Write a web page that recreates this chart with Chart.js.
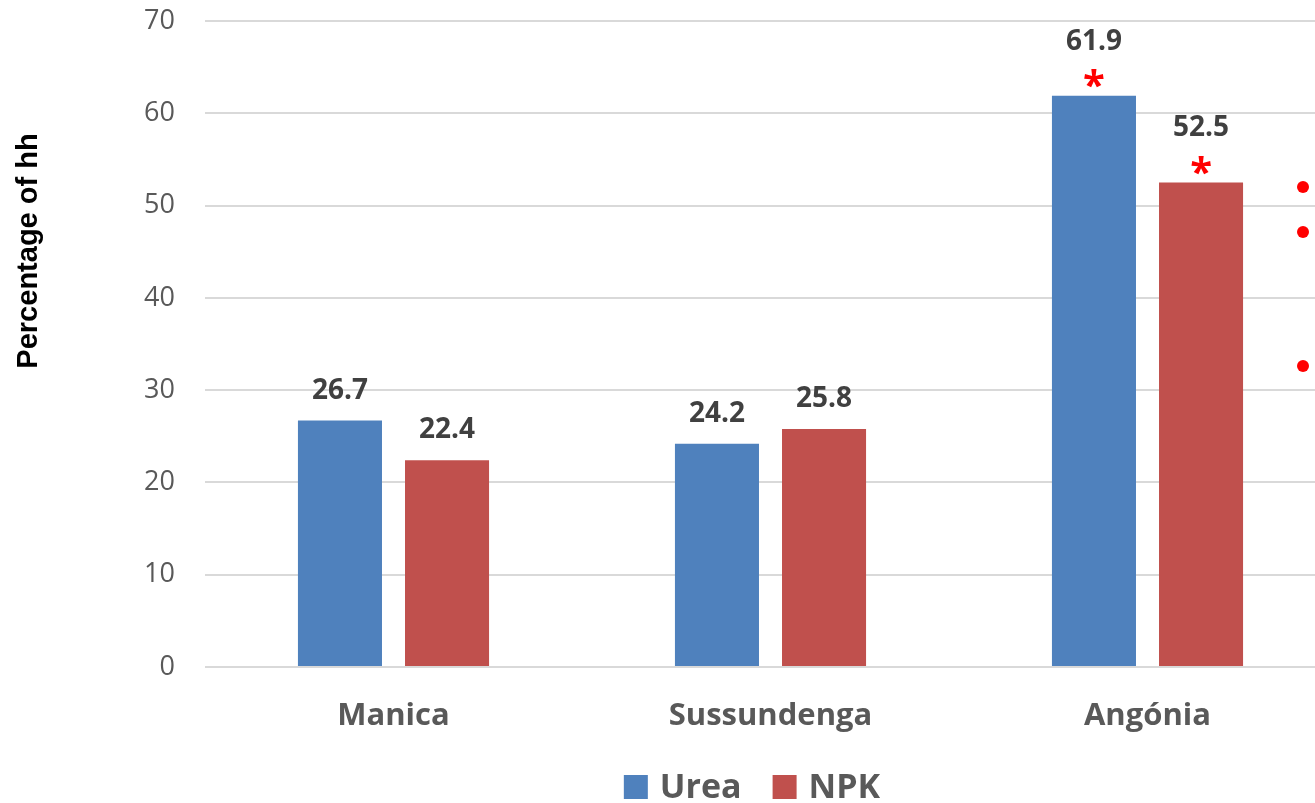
<!DOCTYPE html>
<html>
<head>
<meta charset="utf-8">
<script src="https://cdn.jsdelivr.net/npm/chart.js@4.4.1/dist/chart.umd.min.js"></script>
<style>
  html, body { margin: 0; padding: 0; background: #fff; overflow: hidden; }
  #wrap { position: relative; width: 1336px; height: 803px; }
  .dot { position: absolute; width: 12px; height: 12px; border-radius: 50%; background: #ff0000; }
</style>
</head>
<body>
<div id="wrap">
  <canvas id="grafica_fertilizantes"></canvas>
  <div class="dot" style="left:1297px; top:181px;"></div>
  <div class="dot" style="left:1297px; top:226px;"></div>
  <div class="dot" style="left:1297px; top:360px;"></div>
</div>
<script>
const distritos = ['Manica', 'Sussundenga', 'Angónia'];
const urea = [26.7, 24.2, 61.9];
const npk = [22.4, 25.8, 52.5];
// significance marks shown as a red asterisk above the bar
const ureaSig = [false, false, true];
const npkSig = [false, false, true];
const yTicks = [0, 10, 20, 30, 40, 50, 60, 70];

const AZUL = '#4F81BD';
const ROJO = '#C0504D';
const FONT = "'Open Sans', sans-serif";

const etiquetasPlugin = {
  id: 'etiquetas',
  afterDatasetsDraw(chart) {
    const ctx = chart.ctx;
    ctx.save();
    ctx.textAlign = 'center';
    ctx.textBaseline = 'middle';
    chart.data.datasets.forEach((ds, i) => {
      const meta = chart.getDatasetMeta(i);
      meta.data.forEach((bar, j) => {
        const sig = ds.sig[j];
        ctx.fillStyle = '#404040';
        ctx.font = 'bold 28px ' + FONT;
        ctx.fillText(ds.data[j].toFixed(1), bar.x, bar.y - (sig ? 54 : 30));
        if (sig) {
          ctx.fillStyle = '#ff0000';
          ctx.font = 'bold 40px ' + FONT;
          ctx.fillText('*', bar.x, bar.y - 8);
        }
      });
    });
    ctx.restore();
  }
};

const extrasPlugin = {
  id: 'extras',
  afterDraw(chart) {
    const ctx = chart.ctx;
    ctx.save();
    // y axis title
    ctx.translate(29, 251);
    ctx.rotate(-Math.PI / 2);
    ctx.fillStyle = '#000';
    ctx.textBaseline = 'middle';
    ctx.textAlign = 'center';
    ctx.font = "bold 29px 'Liberation Sans', Arial, sans-serif";
    ctx.fillText('Percentage of hh', 0, 0);
    ctx.restore();

    // legend
    ctx.save();
    ctx.font = 'bold 34px ' + FONT;
    ctx.textBaseline = 'middle';
    const items = chart.data.datasets.map(ds => ({ label: ds.label, color: ds.backgroundColor }));
    const box = 24, gapTxt = 12, gapItem = 31;
    let total = 0;
    items.forEach((it, k) => {
      it.w = box + gapTxt + ctx.measureText(it.label).width;
      total += it.w + (k ? gapItem : 0);
    });
    let x = 752 - total / 2;
    const yc = 787;
    items.forEach(it => {
      ctx.fillStyle = it.color;
      ctx.fillRect(x, yc - box / 2, box, box);
      ctx.fillStyle = '#595959';
      ctx.fillText(it.label, x + box + gapTxt, yc + 1);
      x += it.w + gapItem;
    });
    ctx.restore();
  }
};

new Chart(document.getElementById('grafica_fertilizantes').getContext('2d'), {
  type: 'bar',
  data: {
    labels: distritos,
    datasets: [
      { label: 'Urea', data: urea, sig: ureaSig, backgroundColor: AZUL },
      { label: 'NPK', data: npk, sig: npkSig, backgroundColor: ROJO }
    ]
  },
  options: {
    responsive: true,
    maintainAspectRatio: false,
    animation: false,
    layout: { padding: { top: 21, right: 0, bottom: 40, left: 0 } },
    datasets: {
      bar: { categoryPercentage: 0.568, barPercentage: 0.785 }
    },
    scales: {
      x: {
        grid: { display: false, drawTicks: false },
        border: { display: false },
        ticks: { color: '#595959', font: { family: FONT, size: 31, weight: 'bold' }, padding: 31 },
        afterFit: (s) => { s.height = 96; s.paddingLeft = 0; s.paddingRight = 0; }
      },
      y: {
        min: 0,
        max: 70,
        afterBuildTicks: (s) => { s.ticks = yTicks.map(v => ({ value: v })); },
        grid: { color: '#d9d9d9', lineWidth: 2, drawTicks: false },
        border: { display: false },
        ticks: { color: '#595959', font: { family: FONT, size: 27 }, padding: 30 },
        afterFit: (s) => { s.width = 205; s.paddingTop = 0; s.paddingBottom = 0; }
      }
    },
    plugins: {
      legend: { display: false },
      tooltip: { enabled: false }
    }
  },
  plugins: [etiquetasPlugin, extrasPlugin]
});
</script>
</body>
</html>
